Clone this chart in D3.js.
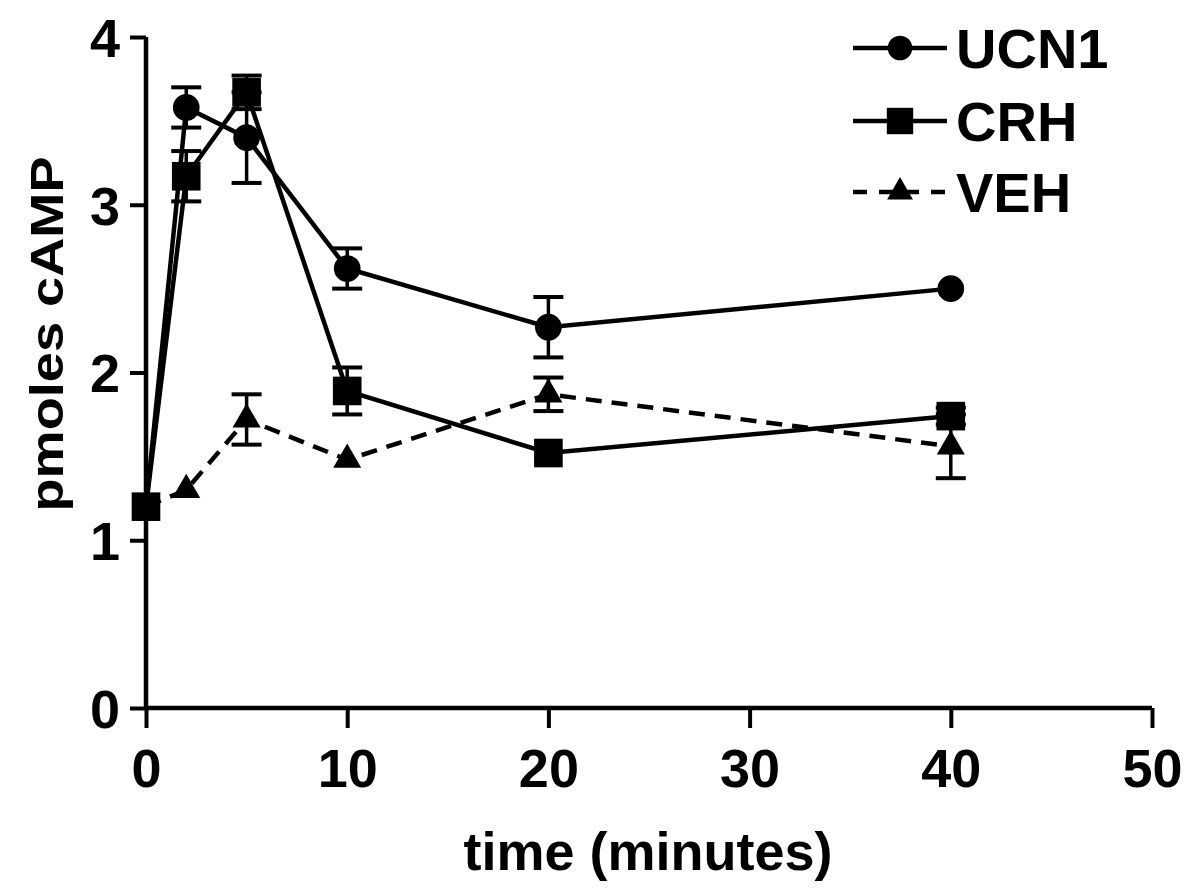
<!DOCTYPE html>
<html>
<head>
<meta charset="utf-8">
<script src="https://cdn.jsdelivr.net/npm/d3@7"></script>
<style>
  body { margin: 0; background: #fff; }
  svg { display: block; font-family: "Liberation Sans", Arial, sans-serif; }
</style>
</head>
<body>
<svg id="chart" width="1194" height="890"></svg>
<script>
var times = [0, 2, 5, 10, 20, 40];
var seriesNames = ["UCN1", "CRH", "VEH"];
var ucn1 = [1.2, 3.58, 3.40, 2.62, 2.27, 2.50];
var ucn1Err = [0, 0.12, 0.27, 0.12, 0.18, 0];
var crh = [1.2, 3.17, 3.67, 1.89, 1.52, 1.74];
var crhErr = [0, 0.15, 0.10, 0.14, 0, 0.05];
var veh = [1.2, 1.30, 1.72, 1.48, 1.87, 1.56];
var vehErr = [0, 0, 0.15, 0, 0.10, 0.19];
var xTicks = [0, 10, 20, 30, 40, 50];
var yTicks = [0, 1, 2, 3, 4];

var margin = {top: 37, right: 42, bottom: 182, left: 146},
    width = 1194, height = 890,
    contentWidth = width - margin.left - margin.right,
    contentHeight = height - margin.top - margin.bottom;

var svg = d3.select("#chart");
var vis = svg.append("g")
  .attr("transform", "translate(" + margin.left + "," + margin.top + ")");

var x = d3.scaleLinear().domain([0, 50]).range([0, contentWidth]);
var y = d3.scaleLinear().domain([0, 4]).range([contentHeight, 0]);

// axes
var xAxis = vis.append("g")
  .attr("transform", "translate(0," + contentHeight + ")")
  .call(d3.axisBottom(x).tickValues(xTicks).tickSize(20).tickPadding(20).tickFormat(d3.format("d")));
var yAxis = vis.append("g")
  .call(d3.axisLeft(y).tickValues(yTicks).tickSize(16).tickPadding(10).tickFormat(d3.format("d")));

[xAxis, yAxis].forEach(function(ax) {
  ax.select(".domain").attr("stroke", "#000").attr("stroke-width", 4.5);
  ax.selectAll(".tick line").attr("stroke", "#000").attr("stroke-width", 4);
  ax.selectAll(".tick text")
    .attr("fill", "#000")
    .style("font-size", "54px")
    .style("font-weight", "bold");
});
// drop the outer tick caps of the domain path
xAxis.select(".domain").attr("d", "M0,0H" + contentWidth);
yAxis.select(".domain").attr("d", "M0," + contentHeight + "V0");
yAxis.selectAll(".tick text").attr("dy", "0.36em");
xAxis.selectAll(".tick text").attr("dy", "0.72em");

// axis titles
svg.append("text")
  .attr("x", 648).attr("y", 870)
  .style("text-anchor", "middle")
  .style("font-size", "54px")
  .style("font-weight", "bold")
  .text("time (minutes)");

svg.append("text")
  .attr("transform", "translate(63,334) rotate(-90)")
  .style("text-anchor", "middle")
  .style("font-size", "46px")
  .style("font-weight", "bold")
  .attr("textLength", 355)
  .attr("lengthAdjust", "spacingAndGlyphs")
  .text("pmoles cAMP");

var series = [
  {name: seriesNames[0], values: ucn1, err: ucn1Err, symbol: d3.symbolCircle, size: 560, dash: null},
  {name: seriesNames[1], values: crh, err: crhErr, symbol: d3.symbolSquare, size: 820, dash: null},
  {name: seriesNames[2], values: veh, err: vehErr, symbol: d3.symbolTriangle, size: 340, dash: "16,10"}
];

var line = d3.line()
  .x(function(d) { return x(d.t); })
  .y(function(d) { return y(d.v); });

series.forEach(function(s) {
  var pts = times.map(function(t, i) { return {t: t, v: s.values[i], e: s.err[i]}; });
  var g = vis.append("g");

  g.append("path")
    .datum(pts)
    .attr("fill", "none")
    .attr("stroke", "#000")
    .attr("stroke-width", 4.5)
    .attr("stroke-dasharray", s.dash)
    .attr("d", line);

  var eb = g.selectAll(".err")
    .data(pts.filter(function(d) { return d.e > 0; }))
    .enter().append("g");
  eb.append("line")
    .attr("x1", function(d) { return x(d.t); })
    .attr("x2", function(d) { return x(d.t); })
    .attr("y1", function(d) { return y(d.v - d.e); })
    .attr("y2", function(d) { return y(d.v + d.e); })
    .attr("stroke", "#000").attr("stroke-width", 3.5);
  [-1, 1].forEach(function(sign) {
    eb.append("line")
      .attr("x1", function(d) { return x(d.t) - 15; })
      .attr("x2", function(d) { return x(d.t) + 15; })
      .attr("y1", function(d) { return y(d.v + sign * d.e); })
      .attr("y2", function(d) { return y(d.v + sign * d.e); })
      .attr("stroke", "#000").attr("stroke-width", 4);
  });

  g.selectAll(".mark")
    .data(pts)
    .enter().append("path")
    .attr("transform", function(d) { return "translate(" + x(d.t) + "," + y(d.v) + ")"; })
    .attr("d", d3.symbol().type(s.symbol).size(s.size))
    .attr("fill", "#000");
});

// legend
var legend = svg.append("g");
var legendY = [48, 121, 192];
series.forEach(function(s, i) {
  var row = legend.append("g").attr("transform", "translate(0," + legendY[i] + ")");
  row.append("line")
    .attr("x1", 853).attr("x2", 947)
    .attr("y1", 0).attr("y2", 0)
    .attr("stroke", "#000").attr("stroke-width", 4.5)
    .attr("stroke-dasharray", s.dash ? "14,12" : null);
  row.append("path")
    .attr("transform", "translate(900,0)")
    .attr("d", d3.symbol().type(s.symbol).size(s.size * 0.85))
    .attr("fill", "#000");
  row.append("text")
    .attr("x", 956).attr("y", 0)
    .attr("dy", "0.36em")
    .style("font-size", "56px")
    .style("font-weight", "bold")
    .text(s.name);
});
</script>
</body>
</html>
